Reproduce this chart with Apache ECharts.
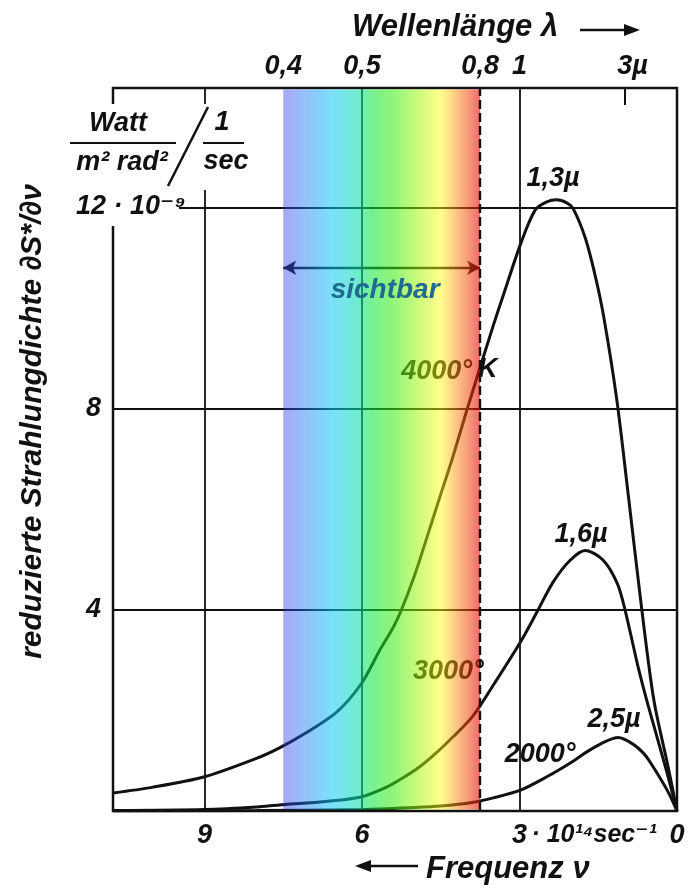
<!DOCTYPE html>
<html><head><meta charset="utf-8">
<script src="https://cdn.jsdelivr.net/npm/echarts@6/dist/echarts.min.js"></script>
<style>html,body{margin:0;padding:0;background:#fff}#c{width:690px;height:894px}</style>
</head><body><div id="c"></div>
<script>
// ---- data (frequency in 10^14 1/sec, radiation density in 10^-9 units) ----
const nu4000  = [10.74, 10.0, 9.0, 8.0, 7.58, 7.12, 6.5, 6.02, 5.66, 5.4, 5.24, 5.0, 4.76, 4.5, 4.29, 4.0, 3.81, 3.5, 3.31, 2.97, 2.70, 2.48, 2.29, 2.10, 1.98, 1.75, 1.56, 1.40, 1.15, 0.93, 0.67, 0.44, 0.17, 0];
const val4000 = [0.36, 0.47, 0.68, 1.05, 1.25, 1.52, 1.95, 2.52, 3.2, 3.66, 4.02, 4.68, 5.45, 6.3, 6.97, 7.98, 8.62, 9.65, 10.25, 11.3, 11.95, 12.11, 12.15, 12.09, 11.98, 11.4, 10.65, 9.85, 8.2, 6.3, 4.0, 2.2, 0.88, 0];
const nu3000  = [10.74, 9.0, 8.0, 7.58, 6.8, 6.02, 5.52, 5.22, 4.9, 4.57, 4.27, 3.90, 3.47, 2.97, 2.67, 2.36, 2.04, 1.75, 1.41, 1.14, 0.99, 0.74, 0.55, 0.2, 0];
const val3000 = [0.01, 0.03, 0.08, 0.12, 0.18, 0.28, 0.48, 0.66, 0.88, 1.17, 1.47, 1.87, 2.55, 3.38, 3.95, 4.55, 4.98, 5.18, 4.99, 4.53, 4.0, 2.86, 2.1, 0.8, 0];
const nu2000  = [10.74, 8.0, 6.0, 5.0, 4.5, 3.9, 3.5, 2.97, 2.48, 2.04, 1.6, 1.12, 0.84, 0.64, 0.51, 0.19, 0];
const val2000 = [0.0, 0.01, 0.03, 0.07, 0.1, 0.17, 0.26, 0.42, 0.68, 0.95, 1.25, 1.46, 1.33, 1.15, 0.97, 0.42, 0];

const freqTicks  = [9, 6, 3, 0];
const freqLabels = ['9', '6', '3', '0'];
const waveTicks  = [7.5, 6, 3.75, 3, 1];          // 0.4, 0.5, 0.8, 1, 3 micron
const waveLabels = ['0,4', '0,5', '0,8', '1', '3µ'];
const yTickValues = [4, 8];
const yTickLabels = ['4', '8'];
const visibleRange = [7.5, 3.75];                 // 0.4 µ ... 0.8 µ
const sichtbarLevel = 10.8;
const X_MAX = 10.743, Y_MAX = 14.374;

// spectrum colours as seen over white paper, with overlay opacity per stop
const spectrumStops = [
  [0.00, [168,168,245], 0.42], [0.10, [150,192,250], 0.45], [0.25, [122,225,250], 0.55], [0.38, [112,236,205], 0.58],
  [0.45, [120,240,145], 0.56], [0.55, [140,245,120], 0.56], [0.68, [200,250,125], 0.54], [0.80, [255,255,140], 0.48],
  [0.90, [250,182,130], 0.52], [1.00, [240,105,105], 0.60]
];
const overlay = (d, a) => `rgba(${d.map(c => Math.min(255, Math.max(0, Math.round((c - (1 - a) * 255) / a)))).join(',')},${a})`;

const FF = '"Liberation Sans", "DejaVu Sans", sans-serif';
const INK = '#111';
const font = s => `italic bold ${s}px ${FF}`;
const zip = (a, b) => a.map((x, i) => [x, b[i]]);

const chart = echarts.init(document.getElementById('c'));
const lbl = {fontFamily: FF, fontStyle: 'italic', fontWeight: 'bold', fontSize: 27, color: INK};
const curve = (name, d) => ({
  name, type: 'line', data: d, smooth: 0.3, symbol: 'none', z: 2,
  lineStyle: {color: INK, width: 3}, silent: true, animation: false
});

chart.setOption({
  animation: false,
  grid: {left: 113, right: 13, top: 88, bottom: 83, show: true, borderColor: INK, borderWidth: 2.5, backgroundColor: 'transparent'},
  xAxis: [{
    type: 'value', min: 0, max: X_MAX, inverse: true, interval: 3,
    axisLine: {show: false}, axisTick: {show: false},
    splitLine: {show: true, lineStyle: {color: INK, width: 1.8}},
    axisLabel: Object.assign({}, lbl, {margin: 11, formatter: v => { const i = freqTicks.indexOf(v); return i < 0 ? '' : freqLabels[i]; }})
  }, {
    type: 'value', position: 'top', min: 0, max: X_MAX, inverse: true,
    axisLine: {show: false}, splitLine: {show: false},
    axisTick: {show: true, customValues: [waveTicks[4]], inside: true, length: 17, lineStyle: {color: INK, width: 2}},
    axisLabel: Object.assign({}, lbl, {margin: 8, customValues: waveTicks,
      formatter: v => { const i = waveTicks.indexOf(v); if (i < 0) return ''; return i === 4 ? '{sp| }' + waveLabels[i] : waveLabels[i]; },
      rich: {sp: {width: 16}}})
  }],
  yAxis: {
    type: 'value', min: 0, max: Y_MAX, interval: 4,
    axisLine: {show: false}, axisTick: {show: false},
    splitLine: {show: true, lineStyle: {color: INK, width: 1.8}},
    axisLabel: Object.assign({}, lbl, {margin: 12, formatter: v => { const i = yTickValues.indexOf(v); return i < 0 ? '' : yTickLabels[i]; }}),
    name: 'reduzierte Strahlungdichte ∂S*/∂ν', nameLocation: 'middle', nameGap: 65, nameRotate: 90,
    nameTextStyle: Object.assign({}, lbl, {fontSize: 30, padding: [0, 0, 0, 56]})
  },
  series: [
    curve('4000', zip(nu4000, val4000)),
    curve('3000', zip(nu3000, val3000)),
    curve('2000', zip(nu2000, val2000)),
    {
      name: 'sichtbar-arrow', type: 'line', data: [], z: 2, silent: true,
      markLine: {z: 2, silent: true, symbol: ['arrow', 'arrow'], symbolSize: [11, 13], label: {show: false},
        lineStyle: {color: INK, width: 2.4, type: 'solid'}, emphasis: {disabled: true},
        data: [[{coord: [visibleRange[0], sichtbarLevel]}, {coord: [visibleRange[1], sichtbarLevel]}]]}
    },
    {
      name: 'band', type: 'line', data: [], z: 5, silent: true,
      markArea: {z: 5, silent: true, emphasis: {disabled: true}, label: {show: false},
        itemStyle: {opacity: 1, borderWidth: 0, color: {type: 'linear', x: 0, y: 0, x2: 1, y2: 0,
          colorStops: spectrumStops.map(s => ({offset: s[0], color: overlay(s[1], s[2])}))}},
        data: [[{xAxis: visibleRange[0], yAxis: 0.03}, {xAxis: visibleRange[1], yAxis: Y_MAX - 0.03}]]}
    },
    {
      name: 'edge', type: 'line', data: [], z: 6, silent: true,
      markLine: {z: 6, silent: true, symbol: ['none', 'none'], label: {show: false}, emphasis: {disabled: true},
        lineStyle: {color: INK, width: 2.4, type: [9, 4]},
        data: [{xAxis: visibleRange[1]}]}
    }
  ]
});

const px = (nu, v) => chart.convertToPixel({xAxisIndex: 0, yAxisIndex: 0}, [nu, v]);
const txt = (text, x, y, size, align, z, fill) => ({type: 'text', z: z, silent: true,
  style: {text, x, y, font: font(size), fill: fill || INK, align: align, verticalAlign: 'middle', textAlign: align, textVerticalAlign: 'middle'}});
const line = (x1, y1, x2, y2, w, z) => ({type: 'line', z: z, silent: true, shape: {x1, y1, x2, y2}, style: {stroke: INK, lineWidth: w}});

const g = [];
// curve labels (under the spectrum overlay)
let p;
p = px(3.905, 8.73); g.push(txt('4000°', p[0], p[1], 27, 'right', 3));
p = px(3.79, 8.77);  g.push(txt('K', p[0], p[1], 27, 'left', 3));
p = px(5.03, 2.78);  g.push(txt('3000°', p[0], p[1], 27, 'left', 3));
p = px(3.28, 1.13);  g.push(txt('2000°', p[0], p[1], 27, 'left', 3));
p = px(2.36, 12.58); g.push(txt('1,3µ', p[0], p[1], 27, 'center', 3));
p = px(1.83, 5.49);  g.push(txt('1,6µ', p[0], p[1], 27, 'center', 3));
p = px(1.20, 1.81);  g.push(txt('2,5µ', p[0], p[1], 27, 'center', 3));
// sichtbar label above overlay
p = px(5.56, 10.36); g.push(txt('sichtbar', p[0], p[1], 28, 'center', 8, '#1f6a90'));
// bottom label suffix
p = px(3, 0); g.push(txt(' · 10¹⁴sec⁻¹', p[0] + 5, p[1] + 24, 25, 'left', 8));
// unit box (top-left)
g.push({type: 'rect', z: 9, silent: true, shape: {x: 104, y: 104, width: 110, height: 86}, style: {fill: '#fff'}});
g.push({type: 'rect', z: 9, silent: true, shape: {x: 104, y: 190, width: 75, height: 36}, style: {fill: '#fff'}});
g.push(txt('Watt', 118, 124, 27, 'center', 10));
g.push(line(70, 143, 176, 143, 2, 10));
g.push(txt('m² rad²', 122, 163, 27, 'center', 10));
g.push(line(208, 107, 168, 186, 2.5, 10));
g.push(txt('1', 222, 123, 27, 'center', 10));
g.push(line(203, 143, 244, 143, 2, 10));
g.push(txt('sec', 226, 162, 27, 'center', 10));
g.push(txt('12 · 10⁻⁹', 76, 207, 27, 'left', 10));
// axis titles
g.push(txt('Wellenlänge λ', 352, 27, 31, 'left', 10));
g.push(line(580, 30, 626, 30, 2.5, 10));
g.push({type: 'polygon', z: 10, silent: true, shape: {points: [[640, 30], [624, 24], [624, 36]]}, style: {fill: INK}});
g.push(txt('Frequenz ν', 426, 869, 31, 'left', 10));
g.push(line(369, 866, 418, 866, 2.5, 10));
g.push({type: 'polygon', z: 10, silent: true, shape: {points: [[355, 866], [371, 860], [371, 872]]}, style: {fill: INK}});
chart.setOption({graphic: g});
</script>
</body></html>
